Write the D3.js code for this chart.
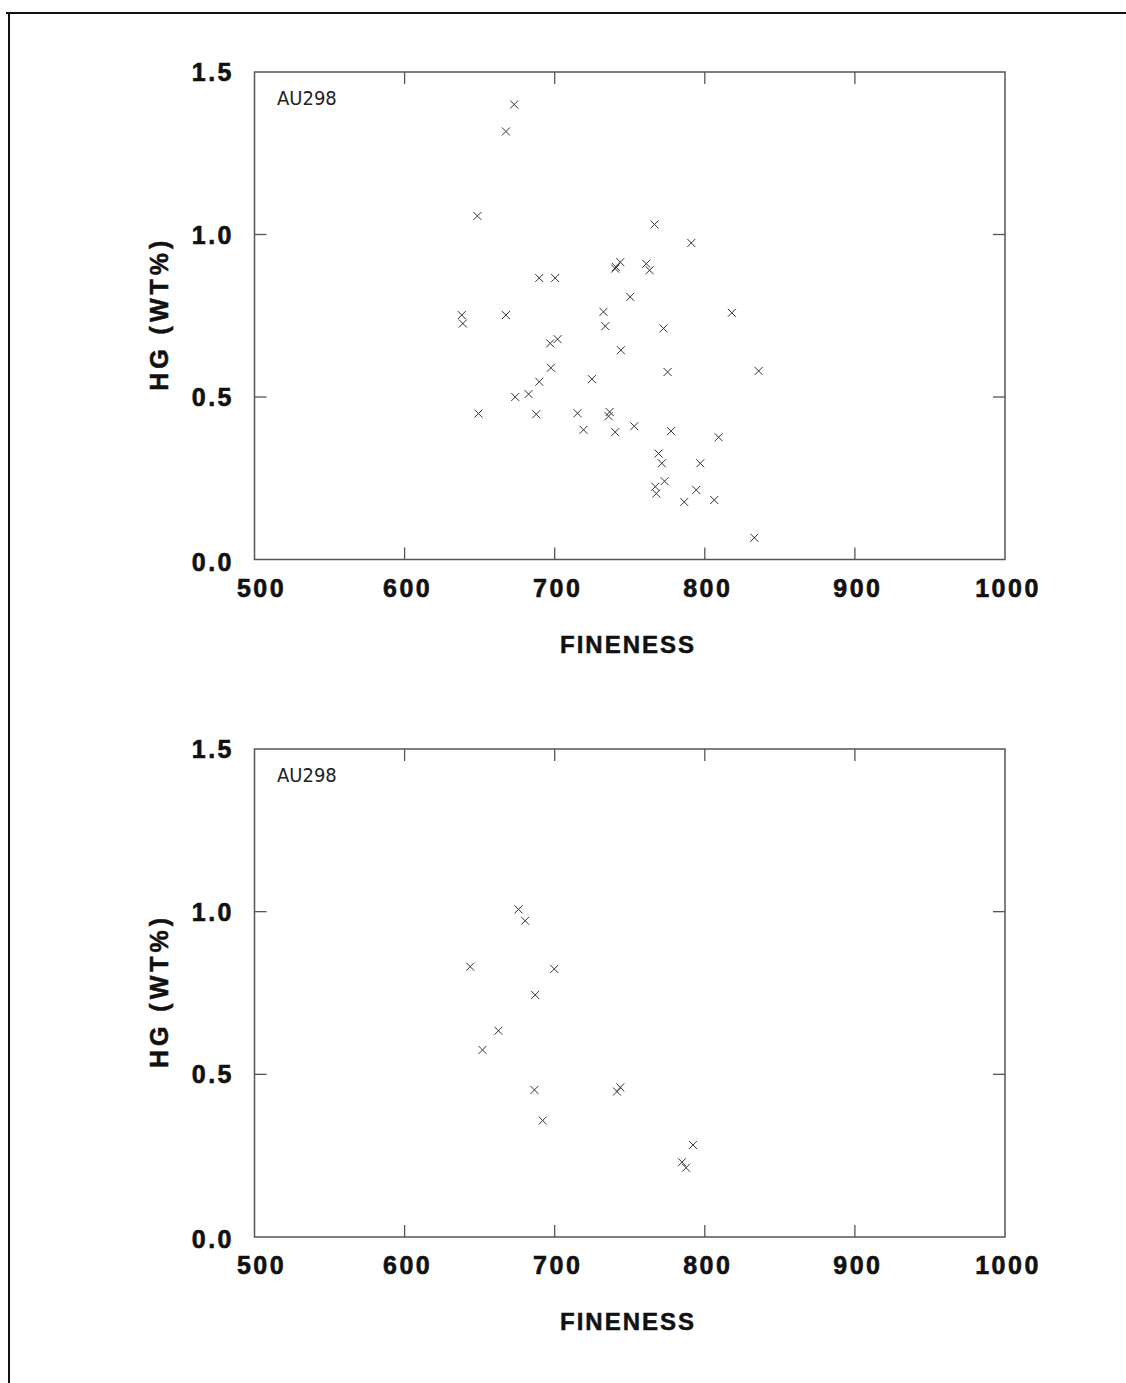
<!DOCTYPE html>
<html>
<head>
<meta charset="utf-8">
<script src="https://cdn.jsdelivr.net/npm/d3@7"></script>
<style>
body{margin:0;background:#fff;}
.tick-label{font-family:"Liberation Sans",Arial,sans-serif;font-weight:bold;font-size:25px;letter-spacing:2.5px;fill:#111;stroke:#111;stroke-width:0.6px;}
.axis-title{font-family:"Liberation Sans",Arial,sans-serif;font-weight:bold;font-size:24px;letter-spacing:2px;fill:#111;stroke:#111;stroke-width:0.5px;}
.tag{font-family:"DejaVu Sans Condensed","DejaVu Sans",sans-serif;font-size:20px;fill:#222;}
</style>
</head>
<body>
<div id="chart"></div>
<script>
// values
let xTicks=[500,600,700,800,900,1000];
let yTicks=[0.0,0.5,1.0,1.5];
let sampleName="AU298";

let fineness1=[673,667.5,648.5,689.7,700.3,638.1,638.8,667.5,697,701.9,697.5,689.7,682.6,673.7,649.2,687.7,715.2,719.2,
  766.5,791,740.3,743.7,761,763.2,750.3,732.5,818,733.7,772.5,744.1,775.2,835.9,724.8,736.6,735.9,740.3,753,777.5,809.2,
  769.2,771.4,797,773.2,767,767.7,794.3,786.3,806.3,833,740.8];
let hg1=[1.40,1.317,1.057,0.866,0.866,0.752,0.726,0.752,0.665,0.678,0.590,0.547,0.509,0.500,0.449,0.447,0.450,0.399,
  1.031,0.974,0.895,0.915,0.910,0.890,0.808,0.762,0.759,0.718,0.711,0.644,0.577,0.580,0.555,0.454,0.441,0.392,0.410,0.395,0.376,
  0.326,0.296,0.296,0.241,0.224,0.203,0.214,0.177,0.183,0.067,0.900];

let fineness2=[675.9,680.3,643.7,699.7,687,662.5,651.9,686.5,743.7,741.5,692,792.1,784.8,787.5];
let hg2=[1.007,0.972,0.831,0.824,0.744,0.634,0.575,0.452,0.460,0.447,0.358,0.283,0.230,0.213];

let width=1126, height=1383;
let svg=d3.select("#chart").append("svg").attr("width",width).attr("height",height);

// page frame
svg.append("line").attr("x1",6).attr("x2",width).attr("y1",13).attr("y2",13).attr("stroke","#111").attr("stroke-width",2);
svg.append("line").attr("x1",9).attr("x2",9).attr("y1",12).attr("y2",height).attr("stroke","#111").attr("stroke-width",2);

function panel(top,bottom,xs,ys){
  let x=d3.scaleLinear().domain([500,1000]).range([254.5,1005]);
  let y=d3.scaleLinear().domain([0,1.5]).range([bottom,top]);
  let g=svg.append("g");
  let col="#555";

  g.append("rect").attr("x",x(500)).attr("y",y(1.5))
   .attr("width",x(1000)-x(500)).attr("height",y(0)-y(1.5))
   .attr("fill","none").attr("stroke",col).attr("stroke-width",1.5);

  // inward ticks
  let inner=xTicks.slice(1,-1);
  inner.forEach(function(t){
    g.append("line").attr("x1",x(t)).attr("x2",x(t)).attr("y1",y(0)).attr("y2",y(0)-12).attr("stroke",col).attr("stroke-width",1.3);
    g.append("line").attr("x1",x(t)).attr("x2",x(t)).attr("y1",y(1.5)).attr("y2",y(1.5)+12).attr("stroke",col).attr("stroke-width",1.3);
  });
  [0.5,1.0].forEach(function(t){
    g.append("line").attr("x1",x(500)).attr("x2",x(500)+12).attr("y1",y(t)).attr("y2",y(t)).attr("stroke",col).attr("stroke-width",1.3);
    g.append("line").attr("x1",x(1000)).attr("x2",x(1000)-12).attr("y1",y(t)).attr("y2",y(t)).attr("stroke",col).attr("stroke-width",1.3);
  });

  g.selectAll(".xl").data(xTicks).enter().append("text").attr("class","tick-label")
   .attr("x",function(d){return x(d)+(d==500?7:3);}).attr("y",y(0)+37)
   .attr("text-anchor","middle").text(function(d){return d;});
  g.selectAll(".yl").data(yTicks).enter().append("text").attr("class","tick-label")
   .attr("x",234).attr("y",function(d){return y(d)+(d==0?11:9);})
   .attr("text-anchor","end").text(function(d){return d.toFixed(1);});

  g.append("text").attr("class","axis-title").attr("x",628).attr("y",y(0)+93)
   .attr("text-anchor","middle").text("FINENESS");
  let mid=(y(0.5)+y(1.0))/2-2;
  g.append("text").attr("class","axis-title")
   .attr("transform","translate(168,"+mid+") rotate(-90)")
   .style("font-size","25px").style("letter-spacing","4px")
   .attr("text-anchor","middle").text("HG (WT%)");

  g.append("text").attr("class","tag").attr("x",277).attr("y",y(1.5)+33).text(sampleName);

  let s=4;
  g.selectAll(".pt").data(xs.map(function(v,i){return [v,ys[i]];})).enter().append("path")
   .attr("d",function(d){
     let cx=x(d[0]), cy=y(d[1]);
     return "M"+(cx-s)+","+(cy-s)+"L"+(cx+s)+","+(cy+s)+"M"+(cx-s)+","+(cy+s)+"L"+(cx+s)+","+(cy-s);
   })
   .attr("stroke","#333").attr("stroke-width",1).attr("fill","none");
}

panel(72,559.5,fineness1,hg1);
panel(749,1237,fineness2,hg2);
</script>
</body>
</html>
